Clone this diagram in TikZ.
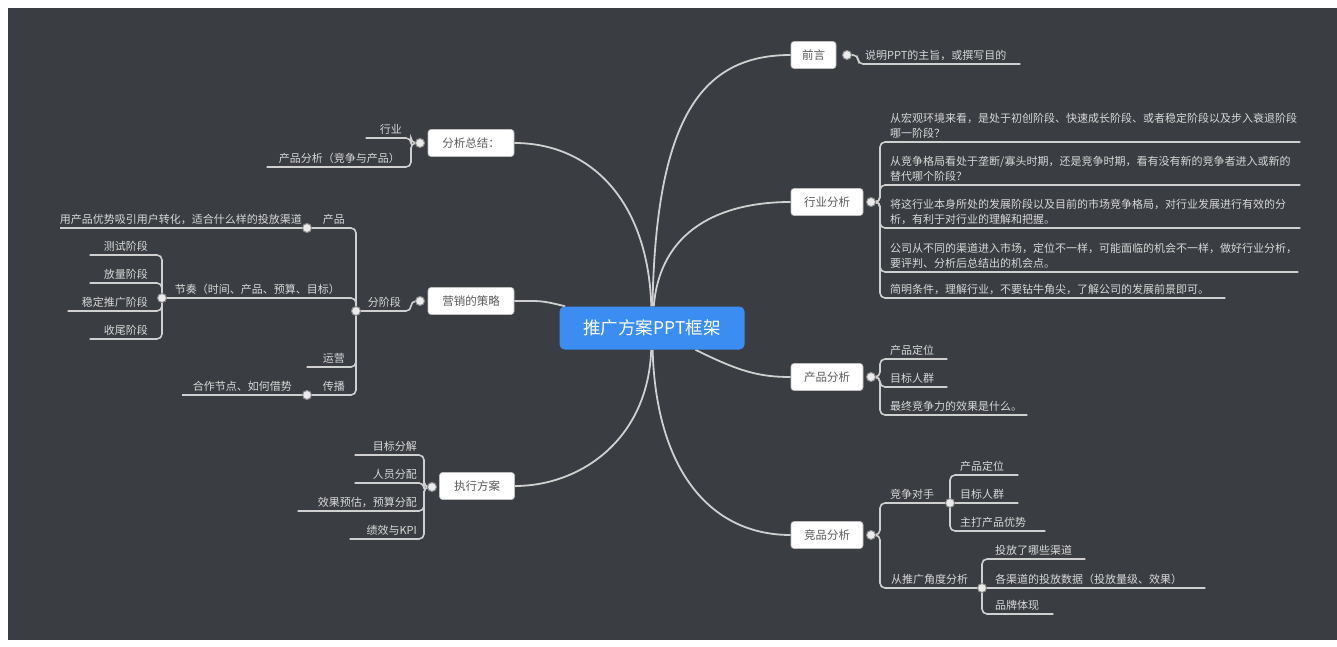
\documentclass[tikz,border=0pt]{standalone}
\usepackage{fontspec}
\newfontfamily\cjk{Noto Sans CJK SC}
\usetikzlibrary{calc}
\definecolor{bgc}{HTML}{3A3D41}
\definecolor{ln}{HTML}{D0D0D0}
\definecolor{lt}{HTML}{D8D8D8}
\definecolor{rootc}{HTML}{3B8DF2}
\definecolor{boxtxt}{HTML}{5A5A5A}
\pgfdeclarelayer{back}
\pgfdeclarelayer{lines}
\pgfsetlayers{back,lines,main}
\begin{document}
\begin{tikzpicture}[x=1pt,y=-1pt,
 every node/.style={font=\cjk},
 conn/.style={draw=ln, line width=1.6pt, rounded corners=5pt},
 curve/.style={draw=ln, line width=1.8pt},
 root/.style={fill=rootc, rounded corners=5pt, text=white, font=\cjk\fontsize{17.5}{20}\selectfont, minimum width=185pt, minimum height=43pt},
 topic/.style={fill=white, draw=white!75!black, line width=0.6pt, rounded corners=3pt, text=boxtxt, font=\cjk\fontsize{11.5}{13}\selectfont, minimum height=27pt, minimum width=#1, inner xsep=2pt},
 dot/.style={circle, fill=white!92!black, draw=white!55!black, line width=1pt, minimum size=9pt, inner sep=0pt},
 leafR/.style={anchor=south west, text=lt, font=\cjk\fontsize{11}{15.5}\selectfont, inner xsep=0pt, inner ysep=3pt, text width=#1, align=left},
 leafL/.style={anchor=south east, text=lt, font=\cjk\fontsize{11}{15.5}\selectfont, inner xsep=0pt, inner ysep=3pt, text width=#1, align=right},
]
\begin{pgfonlayer}{back}
\useasboundingbox[fill=white] (0,0) rectangle (1337,647);
\fill[bgc] (8,8) rectangle (1337,640);
\end{pgfonlayer}

% root and main topics
\node[root] (root) at (652,328) {推广方案PPT框架};
\node[topic=45pt] (qy) at (813.5,55) {前言};
\node[topic=72pt] (hy) at (827,202) {行业分析};
\node[topic=72pt] (cp) at (827,377) {产品分析};
\node[topic=72pt] (jp) at (827,535) {竞品分析};
\node[topic=86pt] (fx) at (471,143) {分析总结：};
\node[topic=86pt] (yx) at (471,301) {营销的策略};
\node[topic=75pt] (zx) at (477,486) {执行方案};

\node[dot] (qyd) at (847,55) {};
\node[dot] (hyd) at (871,202) {};
\node[dot] (cpd) at (871,377) {};
\node[dot] (jpd) at (871,535) {};
\node[dot] (fxd) at (420,143) {};
\node[dot] (yxd) at (420,301) {};
\node[dot] (zxd) at (432,487) {};

% 前言
\node[leafR=155pt] (q1) at (865,64) {说明PPT的主旨，或撰写目的};

% 行业分析
\node[leafR=410pt] (h1) at (890,142) {从宏观环境来看，是处于初创阶段、快速成长阶段、或者稳定阶段以及步入衰退阶段\\哪一阶段？};
\node[leafR=410pt] (h2) at (890,185) {从竞争格局看处于垄断/寡头时期，还是竞争时期，看有没有新的竞争者进入或新的\\替代哪个阶段？};
\node[leafR=410pt] (h3) at (890,228) {将这行业本身所处的发展阶段以及目前的市场竞争格局，对行业发展进行有效的分\\析，有利于对行业的理解和把握。};
\node[leafR=408pt] (h4) at (890,272) {公司从不同的渠道进入市场，定位不一样，可能面临的机会不一样，做好行业分析，\\要评判、分析后总结出的机会点。};
\node[leafR=335pt] (h5) at (890,298) {简明条件，理解行业，不要钻牛角尖，了解公司的发展前景即可。};

% 产品分析
\node[leafR=57pt] (c1) at (890,359) {产品定位};
\node[leafR=57pt] (c2) at (890,387) {目标人群};
\node[leafR=137pt] (c3) at (890,415) {最终竞争力的效果是什么。};

% 竞品分析
\node[leafR=50pt] (j1) at (890,503) {竞争对手};
\node[dot] (j1d) at (950,503) {};
\node[leafR=58pt] (j11) at (960,475) {产品定位};
\node[leafR=58pt] (j12) at (960,503) {目标人群};
\node[leafR=85pt] (j13) at (960,531) {主打产品优势};
\node[leafR=80pt] (j2) at (891,588) {从推广角度分析};
\node[dot] (j2d) at (982,588) {};
\node[leafR=90pt] (j21) at (995,559) {投放了哪些渠道};
\node[leafR=210pt] (j22) at (995,588) {各渠道的投放数据（投放量级、效果）};
\node[leafR=58pt] (j23) at (995,614) {品牌体现};

% 分析总结
\node[leafL=36pt] (f1) at (402,138) {行业};
\node[leafL=133pt] (f2) at (400,167) {产品分析（竞争与产品）};

% 营销的策略
\node[leafL=34pt] (y1) at (401,311) {分阶段};
\node[dot] (y1d) at (356,311) {};
\node[leafL=25pt] (y11) at (345,228) {产品};
\node[dot] (y11d) at (307,228) {};
\node[leafL=235pt] (y111) at (295,228) {用产品优势吸引用户转化，适合什么样的投放渠道};
\node[leafL=175pt] (y12) at (340,298) {节奏（时间、产品、预算、目标）};
\node[dot] (y12d) at (162,298) {};
\node[leafL=58pt] (y121) at (148,255) {测试阶段};
\node[leafL=58pt] (y122) at (148,283) {放量阶段};
\node[leafL=80pt] (y123) at (148,311) {稳定推广阶段};
\node[leafL=58pt] (y124) at (148,339) {收尾阶段};
\node[leafL=38pt] (y13) at (345,367) {运营};
\node[leafL=25pt] (y14) at (345,395) {传播};
\node[dot] (y14d) at (307,395) {};
\node[leafL=110pt] (y141) at (292,395) {合作节点、如何借势};

% 执行方案
\node[leafL=62pt] (z1) at (417,455) {目标分解};
\node[leafL=62pt] (z2) at (417,483) {人员分配};
\node[leafL=119pt] (z3) at (417,511) {效果预估，预算分配};
\node[leafL=67pt] (z4) at (417,539) {绩效与KPI};

\begin{pgfonlayer}{lines}
% curves from root
\draw[curve] (root) .. controls (656,120) and (700,55) .. (qy.west);
\draw[curve] (root) .. controls (660,230) and (720,202) .. (hy.west);
\draw[curve] (root) .. controls (740,372) and (760,377) .. (cp.west);
\draw[curve] (root) .. controls (656,470) and (710,535) .. (jp.west);
\draw[curve] (root) .. controls (648,200) and (590,143) .. (fx.east);
\draw[curve] (root) .. controls (540,300) and (540,301) .. (yx.east);
\draw[curve] (root) .. controls (648,440) and (580,486) .. (zx.east);

% right branches
\draw[conn] (qyd.east) -- ++(6,0) |- (q1.south east);
\foreach \n in {h1,h2,h3,h4,h5} \draw[conn] (hyd.east) -- ++(4,0) |- (\n.south east);
\foreach \n in {c1,c2,c3} \draw[conn] (cpd.east) -- ++(4,0) |- (\n.south east);
\draw[conn] (jpd.east) -- ++(4,0) |- (j1d.center);
\draw[conn] (jpd.east) -- ++(4,0) |- (j2d.center);
\foreach \n in {j11,j12,j13} \draw[conn] (j1d.center) |- (\n.south east);
\foreach \n in {j21,j22,j23} \draw[conn] (j2d.center) |- (\n.south east);

% left branches
\foreach \n in {f1,f2} \draw[conn] (fxd.west) -- ++(-4,0) |- (\n.south west);
\draw[conn] (yxd.west) -- ++(-4,0) |- (y1d.center);
\draw[conn] (y1d.center) |- (y11d.center);
\draw[conn] (y11d.center) -- (y111.south west);
\draw[conn] (y1d.center) |- (y12d.center);
\foreach \n in {y121,y122,y123,y124} \draw[conn] (y12d.center) |- (\n.south west);
\draw[conn] (y1d.center) |- (y13.south west);
\draw[conn] (y1d.center) |- (y14d.center);
\draw[conn] (y14d.center) -- (y141.south west);
\foreach \n in {z1,z2,z3,z4} \draw[conn] (zxd.west) -- ++(-3,0) |- (\n.south west);
\end{pgfonlayer}
\end{tikzpicture}
\end{document}
